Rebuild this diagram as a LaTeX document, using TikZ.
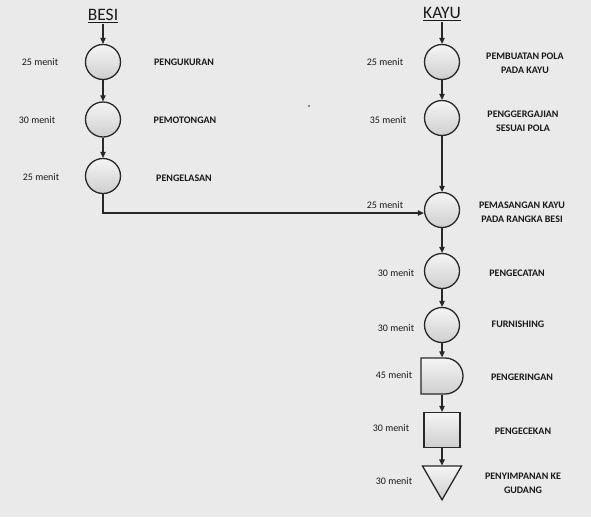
\documentclass[tikz,border=0pt]{standalone}
\usepackage{fontspec}
\setmainfont{Carlito}
\usetikzlibrary{arrows.meta,shapes.geometric,shapes.misc}
\definecolor{bgcol}{RGB}{234,234,234}
\definecolor{linecol}{RGB}{40,40,40}
\definecolor{txtcol}{RGB}{25,25,25}
\begin{document}
\begin{tikzpicture}[x=1pt,y=-1pt,
  every node/.style={text=txtcol},
  shadefill/.style={draw=linecol,line width=1.3pt,top color=gray!8,bottom color=gray!38},
  proc/.style={circle,shadefill,minimum size=35pt,inner sep=0pt},
  delaybox/.style={rounded rectangle,rounded rectangle left arc=none,shadefill,minimum width=42pt,minimum height=36pt,inner sep=0pt},
  inspbox/.style={rectangle,shadefill,minimum width=36pt,minimum height=35pt,inner sep=0pt},
  storebox/.style={regular polygon,regular polygon sides=3,shape border rotate=180,shadefill,minimum size=45pt,inner sep=0pt},
  head/.style={font=\fontsize{17.5}{19}\selectfont,inner sep=1pt},
  timelbl/.style={font=\fontsize{10}{11}\selectfont,inner sep=0pt},
  steplbl/.style={font=\fontsize{10}{14}\selectfont\bfseries,align=center,inner sep=0pt},
  arr/.style={draw=linecol,line width=1.2pt,-{Triangle[length=6pt,width=5.5pt]}}
]
\fill[bgcol] (0,0) rectangle (591,517);
\useasboundingbox (0,0) rectangle (591,517);

% headings
\node[head] (besi) at (103,16) {\underline{BESI}};
\node[head] (kayu) at (442,14) {\underline{KAYU}};

% left column
\node[proc] (b1) at (103,62) {};
\node[proc] (b2) at (103,119.5) {};
\node[proc] (b3) at (103,176) {};

% right column
\node[proc] (k1) at (442,62) {};
\node[proc] (k2) at (442,118) {};
\node[proc] (k3) at (442,210) {};
\node[proc] (k4) at (442,271) {};
\node[proc] (k5) at (442,325) {};
\node[delaybox] (dl) at (442,376) {};
\node[inspbox] (sq) at (442,430) {};
\node[storebox] (tr) at (442,477.3) {};

% connectors
\draw[arr] (besi.south) -- (b1);
\draw[arr] (b1) -- (b2);
\draw[arr] (b2) -- (b3);
\draw[arr] (b3.south) |- ([yshift=-3pt]k3.west);
\draw[arr] (kayu.south) -- (k1);
\draw[arr] (k1) -- (k2);
\draw[arr] (k2) -- (k3);
\draw[arr] (k3) -- (k4);
\draw[arr] (k4) -- (k5);
\draw[arr] (k5) -- (dl);
\draw[arr] (dl) -- (sq);
\draw[arr] (sq) -- (tr.north);

% time labels
\node[timelbl] (t1) at (40,62) {25 menit};
\node[timelbl] (t2) at (37,120) {30 menit};
\node[timelbl] (t3) at (41,177) {25 menit};
\node[timelbl] (t4) at (385,62) {25 menit};
\node[timelbl] (t5) at (388,120) {35 menit};
\node[timelbl] (t6) at (385,205) {25 menit};
\node[timelbl] (t7) at (396,273) {30 menit};
\node[timelbl] (t8) at (396,328) {30 menit};
\node[timelbl] (t9) at (394,375) {45 menit};
\node[timelbl] (t10) at (391,428) {30 menit};
\node[timelbl] (t11) at (394,481) {30 menit};

% step labels
\node[steplbl] (s1) at (184,62) {PENGUKURAN};
\node[steplbl] (s2) at (185,120) {PEMOTONGAN};
\node[steplbl] (s3) at (184,178) {PENGELASAN};
\node[steplbl] (s4) at (525,63) {PEMBUATAN POLA\\PADA KAYU};
\node[steplbl] (s5) at (523,121) {PENGGERGAJIAN\\SESUAI POLA};
\node[steplbl] (s6) at (522,212) {PEMASANGAN KAYU\\PADA RANGKA BESI};
\node[steplbl] (s7) at (517,273) {PENGECATAN};
\node[steplbl] (s8) at (518,324) {FURNISHING};
\node[steplbl] (s9) at (522,377) {PENGERINGAN};
\node[steplbl] (s10) at (523,431) {PENGECEKAN};
\node[steplbl] (s11) at (523,483) {PENYIMPANAN KE\\GUDANG};

% stray mark
\fill[linecol!70] (309,106) circle (1.2pt);
\end{tikzpicture}
\end{document}
